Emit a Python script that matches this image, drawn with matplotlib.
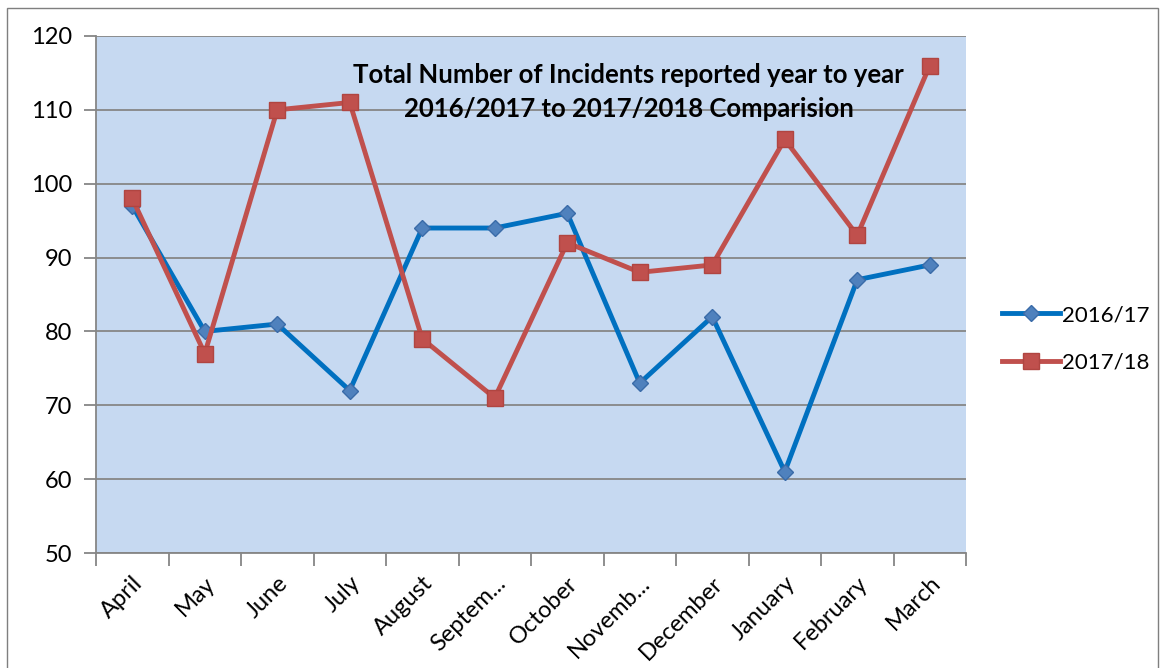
import matplotlib
matplotlib.use("Agg")
import matplotlib.pyplot as plt
from matplotlib.patches import Rectangle

months = ["April", "May", "June", "July", "August", "Septem...", "October",
          "Novemb...", "December", "January", "February", "March"]
series_2016 = [97, 80, 81, 72, 94, 94, 96, 73, 82, 61, 87, 89]
series_2017 = [98, 77, 110, 111, 79, 71, 92, 88, 89, 106, 93, 116]
y_ticks = [50, 60, 70, 80, 90, 100, 110, 120]

plt.rcParams['font.family'] = ['Lato', 'DejaVu Sans']

W, H = 1162, 668
fig = plt.figure(figsize=(W / 100, H / 100), dpi=100)
fig.patch.set_facecolor("white")

# outer chart border
fig.add_artist(Rectangle((7 / W, -0.01), (1158 - 7) / W, 1 - 8 / H + 0.01,
                         transform=fig.transFigure, fill=False,
                         edgecolor="#7f7f7f", linewidth=1.0))

ax = fig.add_axes([96 / W, 1 - 553 / H, (966 - 96) / W, (553 - 36) / H])
ax.set_facecolor("#C6D9F1")

x = list(range(len(months)))
ax.plot(x, series_2016, color="#0070C0", linewidth=3.5, marker="D",
        markersize=8, markerfacecolor="#4F81BD", markeredgecolor="#3A6BA8",
        markeredgewidth=1, label="2016/17", zorder=3)
ax.plot(x, series_2017, color="#C0504D", linewidth=3.5, marker="s",
        markersize=12, markerfacecolor="#C0504D", markeredgecolor="#B04541",
        markeredgewidth=1, label="2017/18", zorder=4)

ax.set_xlim(-0.5, len(months) - 0.5)
ax.set_ylim(50, 120)
ax.set_yticks(y_ticks)
ax.set_yticklabels([str(v) for v in y_ticks], fontsize=17)
ax.yaxis.grid(True, color="#868686", linewidth=1.3)
ax.set_axisbelow(True)
ax.tick_params(axis="y", length=9, width=1.3, color="#868686", pad=8)

# category labels centred between boundary ticks
ax.set_xticks([i + 0.5 for i in range(-1, len(months))])
ax.set_xticklabels([])
ax.tick_params(axis="x", length=9, width=1.3, color="#868686")
ax.set_xticks(x, minor=True)
ax.set_xticklabels(months, minor=True, rotation=45, ha="right",
                   rotation_mode="anchor", fontsize=17)
ax.tick_params(axis="x", which="minor", length=0, pad=14)

for side in ["top", "right"]:
    ax.spines[side].set_visible(False)
for side in ["left", "bottom"]:
    ax.spines[side].set_color("#868686")
    ax.spines[side].set_linewidth(1.3)

ax.text(0.612, 0.892, "Total Number of Incidents reported year to year\n"
        "2016/2017 to 2017/2018 Comparision", transform=ax.transAxes,
        ha="center", va="center", fontsize=18.5, fontweight="bold",
        linespacing=1.5, zorder=2)

leg = fig.legend(loc="center left", bbox_to_anchor=(982 / W, 1 - 339 / H),
                 frameon=False, fontsize=16, handlelength=2.6,
                 handletextpad=0.1, labelspacing=1.25)

fig.savefig("out.png", dpi=100)
